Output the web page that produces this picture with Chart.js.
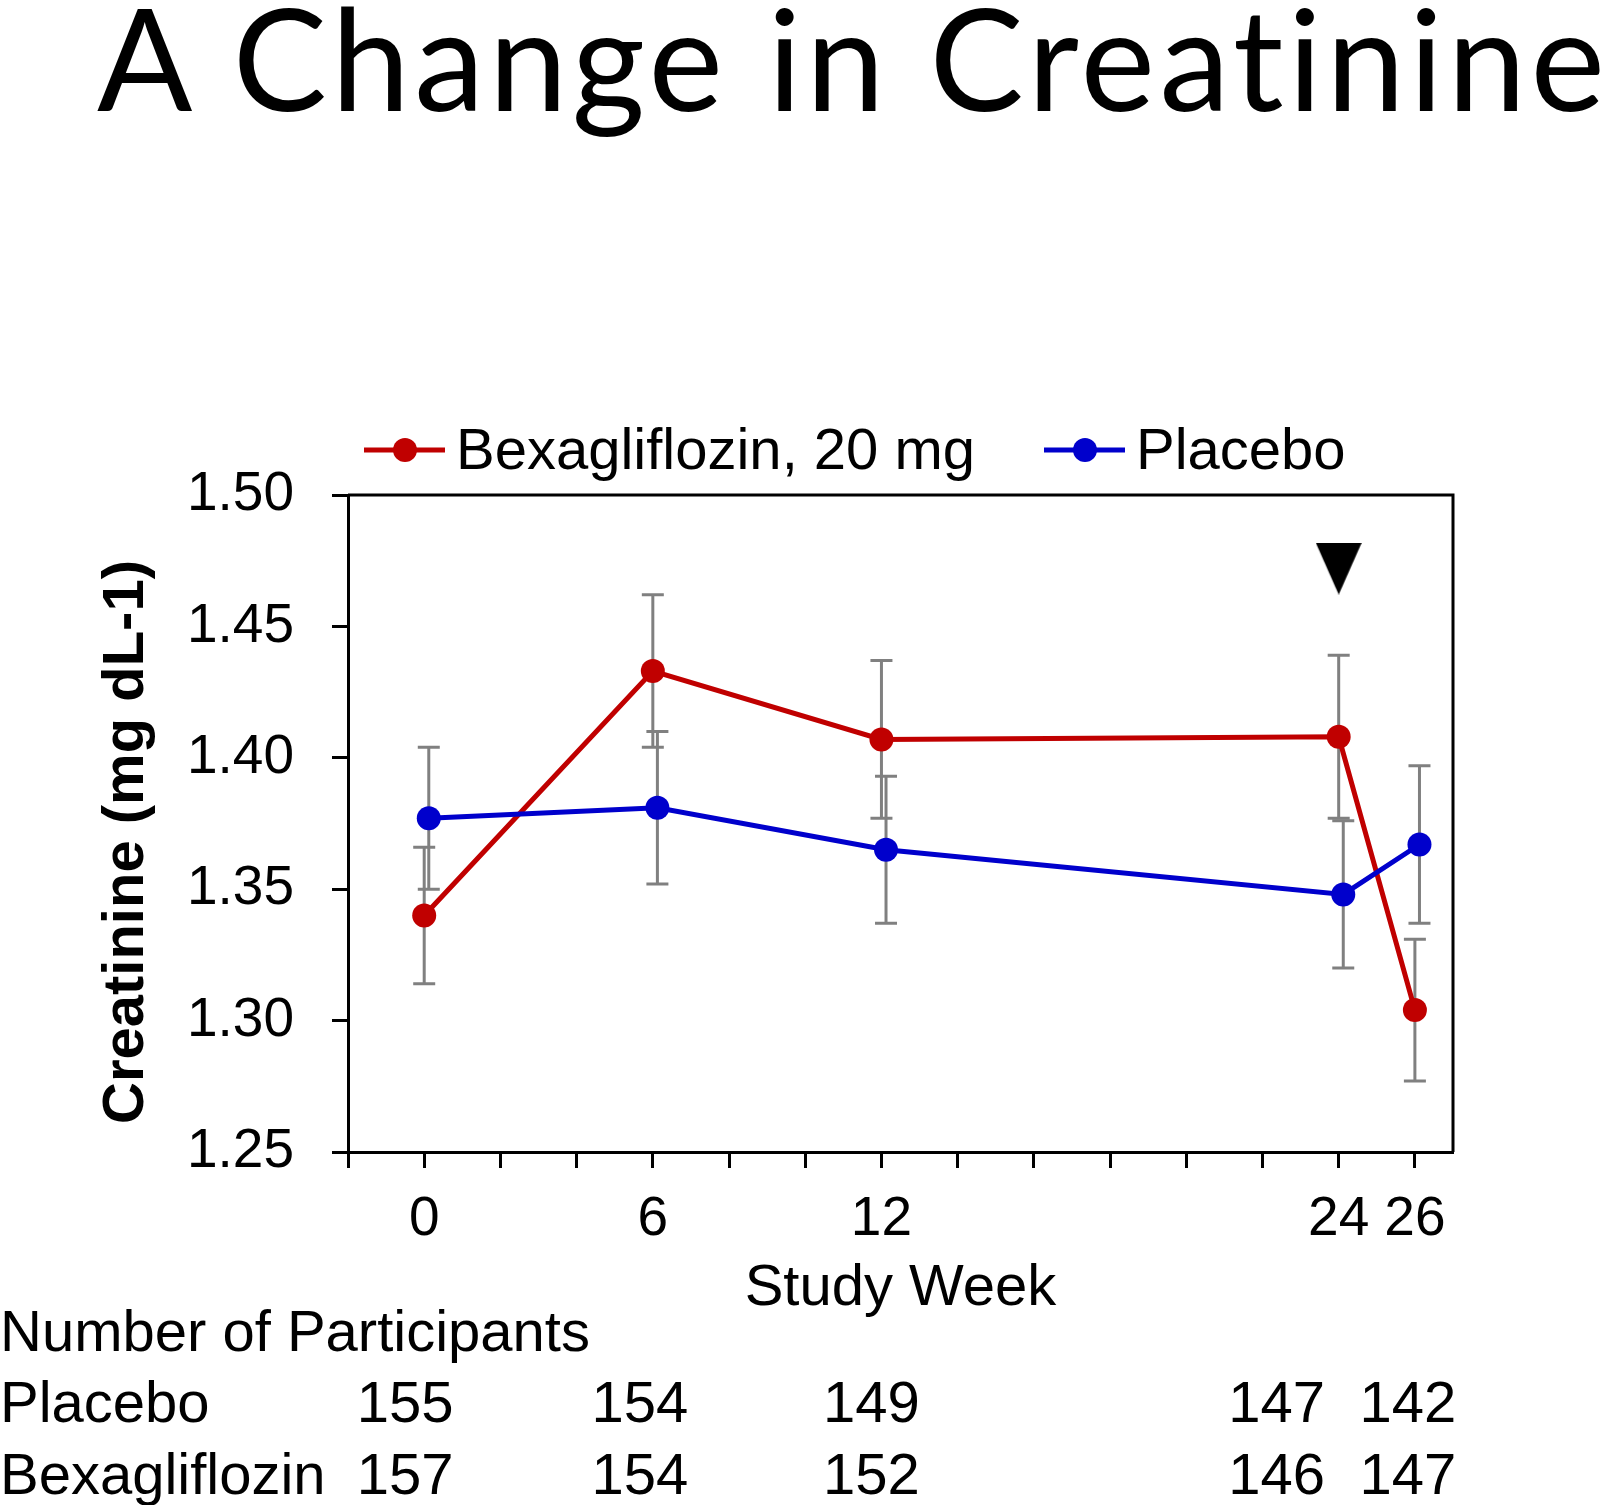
<!DOCTYPE html>
<html>
<head>
<meta charset="utf-8">
<script src="https://cdn.jsdelivr.net/npm/chart.js@4.4.1/dist/chart.umd.min.js"></script>
<style>
  html, body { margin: 0; padding: 0; background: #fff; }
  #wrap { position: relative; width: 1602px; height: 1505px; overflow: hidden; }
  #chart { position: absolute; left: 0; top: 0; }
  #title {
    position: absolute; left: 97px; top: -14px; margin: 0;
    font-family: Lato, "Open Sans", sans-serif; font-weight: 400;
    font-size: 141px; line-height: 1; letter-spacing: 4.4px;
    font-variant-ligatures: none; white-space: nowrap; color: #000;
  }
</style>
</head>
<body>
<div id="wrap">
  <canvas id="chart" width="1602" height="1505"></canvas>
  <h1 id="title">A Change in Creatinine</h1>
</div>
<script>
// values
const weeks = [0, 6, 12, 24, 26];
const bexaMean = [1.340, 1.433, 1.407, 1.408, 1.304];
const bexaErr = [0.026, 0.029, 0.030, 0.031, 0.027];
const placeboMean = [1.377, 1.381, 1.365, 1.348, 1.367];
const placeboErr = [0.027, 0.029, 0.028, 0.028, 0.030];
const labelledWeeks = [0, 6, 12, 24, 26];
const placeboN = [155, 154, 149, 147, 142];
const bexaN = [157, 154, 152, 146, 147];
const markerWeek = 24;
const markerValue = 1.472;

const FONT = '"Liberation Sans", Arial, sans-serif';
const RED = '#C00000';
const BLUE = '#0000CC';
const GREY = '#808080';
const placeboShift = 0.12;

function toPoints(xs, ys, shift) {
  return xs.map((x, i) => ({ x: x + shift, y: ys[i] }));
}

// downward arrow head used as the marker style
const arrow = document.createElement('canvas');
arrow.width = 46;
arrow.height = 52;
const actx = arrow.getContext('2d');
actx.beginPath();
actx.moveTo(0, 0);
actx.lineTo(46, 0);
actx.lineTo(23, 52);
actx.closePath();
actx.fillStyle = '#000';
actx.fill();

const extras = {
  id: 'extras',
  beforeDatasetsDraw(chart) {
    const ctx = chart.ctx;
    const y = chart.scales.y;
    ctx.save();
    ctx.strokeStyle = GREY;
    ctx.lineWidth = 3;
    chart.data.datasets.forEach((ds, i) => {
      if (!ds.errors) return;
      const meta = chart.getDatasetMeta(i);
      meta.data.forEach((pt, j) => {
        const v = ds.data[j].y;
        const top = y.getPixelForValue(v + ds.errors[j]);
        const bot = y.getPixelForValue(v - ds.errors[j]);
        ctx.beginPath();
        ctx.moveTo(pt.x, top); ctx.lineTo(pt.x, bot);
        ctx.moveTo(pt.x - 11, top); ctx.lineTo(pt.x + 11, top);
        ctx.moveTo(pt.x - 11, bot); ctx.lineTo(pt.x + 11, bot);
        ctx.stroke();
      });
    });
    ctx.restore();
  },
  afterDraw(chart) {
    const ctx = chart.ctx;
    const a = chart.chartArea;
    const xs = chart.scales.x;
    ctx.save();

    // top and right frame
    ctx.strokeStyle = '#000';
    ctx.lineWidth = 3;
    ctx.beginPath();
    ctx.moveTo(a.left, a.top); ctx.lineTo(a.right, a.top); ctx.lineTo(a.right, a.bottom);
    ctx.stroke();

    ctx.textBaseline = 'alphabetic';
    ctx.textAlign = 'left';

    // legend
    function legendItem(x0, label, color) {
      ctx.strokeStyle = color;
      ctx.fillStyle = color;
      ctx.lineWidth = 5;
      ctx.beginPath();
      ctx.moveTo(x0, 450); ctx.lineTo(x0 + 81, 450);
      ctx.stroke();
      ctx.beginPath();
      ctx.arc(x0 + 41, 450, 12, 0, Math.PI * 2);
      ctx.fill();
      ctx.fillStyle = '#000';
      ctx.font = '58px ' + FONT;
      ctx.fillText(label, x0 + 92, 469);
    }
    legendItem(364, 'Bexagliflozin, 20 mg', RED);
    legendItem(1044, 'Placebo', BLUE);

    // y title
    ctx.save();
    ctx.translate(127, 842);
    ctx.rotate(-Math.PI / 2);
    ctx.textAlign = 'center';
    ctx.textBaseline = 'middle';
    ctx.font = 'bold 58px ' + FONT;
    ctx.fillText('Creatinine (mg dL-1)', 0, 0);
    ctx.restore();

    // x title
    ctx.textAlign = 'center';
    ctx.font = '58px ' + FONT;
    ctx.fillText('Study Week', (a.left + a.right) / 2, 1305);

    // participants table
    ctx.textAlign = 'left';
    ctx.fillText('Number of Participants', 0, 1351);
    ctx.fillText('Placebo', 0, 1422);
    ctx.fillText('Bexagliflozin', 0, 1494);
    const colShift = [-19, -13, -10, -62, -7];
    ctx.textAlign = 'center';
    weeks.forEach((w, i) => {
      const cx = xs.getPixelForValue(w) + colShift[i];
      ctx.fillText(String(placeboN[i]), cx, 1422);
      ctx.fillText(String(bexaN[i]), cx, 1494);
    });
    ctx.restore();
  }
};

new Chart(document.getElementById('chart'), {
  type: 'line',
  data: {
    datasets: [
      {
        label: 'Placebo',
        data: toPoints(weeks, placeboMean, placeboShift),
        errors: placeboErr,
        borderColor: BLUE,
        backgroundColor: BLUE,
        borderWidth: 5,
        pointRadius: 12,
        pointBorderWidth: 0,
        tension: 0
      },
      {
        label: 'Bexagliflozin, 20 mg',
        data: toPoints(weeks, bexaMean, 0),
        errors: bexaErr,
        borderColor: RED,
        backgroundColor: RED,
        borderWidth: 5,
        pointRadius: 12,
        pointBorderWidth: 0,
        tension: 0
      },
      {
        label: 'marker',
        data: [{ x: markerWeek, y: markerValue }],
        showLine: false,
        pointStyle: arrow,
        pointRadius: 26
      }
    ]
  },
  options: {
    responsive: false,
    devicePixelRatio: 1,
    animation: false,
    layout: { padding: { top: 495, right: 149, bottom: 223, left: 0 } },
    plugins: { legend: { display: false }, tooltip: { enabled: false } },
    scales: {
      x: {
        type: 'linear',
        min: -2,
        max: 27,
        afterFit(scale) { scale.height = 130; },
        afterBuildTicks(scale) {
          scale.ticks = scale.ticks.filter(t => t.value <= 26 && (t.value + 2) % 2 === 0);
        },
        ticks: {
          stepSize: 2,
          includeBounds: false,
          autoSkip: false,
          maxRotation: 0,
          padding: 19,
          color: '#000',
          font: { family: FONT, size: 55 },
          callback: v => labelledWeeks.includes(v) ? String(v) : ''
        },
        grid: { drawOnChartArea: false, tickLength: 16, tickWidth: 3, tickColor: '#000' },
        border: { color: '#000', width: 3 }
      },
      y: {
        min: 1.25,
        max: 1.5,
        afterFit(scale) { scale.width = 348; },
        ticks: {
          stepSize: 0.05,
          padding: 38,
          color: '#000',
          font: { family: FONT, size: 55 },
          callback: v => v.toFixed(2)
        },
        grid: { drawOnChartArea: false, tickLength: 16, tickWidth: 3, tickColor: '#000' },
        border: { color: '#000', width: 3 }
      }
    }
  },
  plugins: [extras]
});
</script>
</body>
</html>
